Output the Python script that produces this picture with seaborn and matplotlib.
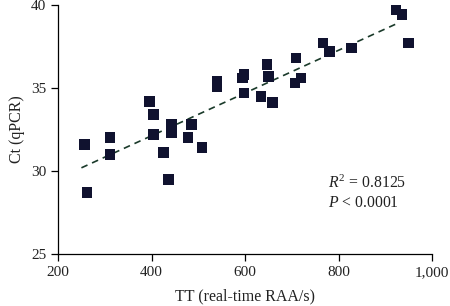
import numpy as np
import pandas as pd
import matplotlib
matplotlib.use("Agg")
import matplotlib.pyplot as plt
import seaborn as sns

tt = [256, 262, 311, 311, 395, 405, 405, 425, 437, 442, 442, 478, 485, 508,
      540, 540, 598, 594, 598, 634, 647, 651, 658, 709, 707, 720, 767, 780,
      827, 923, 936, 949]
ct = [31.6, 28.7, 32.0, 31.0, 34.2, 33.4, 32.2, 31.1, 29.5, 32.8, 32.3, 32.0,
      32.8, 31.4, 35.4, 35.1, 35.8, 35.6, 34.7, 34.5, 36.4, 35.7, 34.1, 36.8,
      35.3, 35.6, 37.7, 37.2, 37.4, 39.7, 39.4, 37.7]
x_ticks = [200, 400, 600, 800, 1000]
x_tick_labels = ["200", "400", "600", "800", "1,000"]
y_ticks = [25, 30, 35, 40]
r2_text = "0.8125"
p_text = "0.0001"

sns.set_style("ticks")
plt.rcParams["font.family"] = ["Liberation Serif", "DejaVu Serif"]
plt.rcParams["mathtext.fontset"] = "custom"
plt.rcParams["mathtext.rm"] = "Liberation Serif"
plt.rcParams["mathtext.it"] = "Liberation Serif:italic"

df = pd.DataFrame({"TT": tt, "Ct": ct})

fig = plt.figure(figsize=(4.5, 3.06), dpi=100)
ax = fig.add_axes([0.129, 0.170, 0.831, 0.814])

sns.scatterplot(data=df, x="TT", y="Ct", marker="s", s=60, color="#10122f",
                edgecolor="none", ax=ax, zorder=3)

slope, intercept = np.polyfit(df["TT"], df["Ct"], 1)
xl = np.array([250, 930])
sns.lineplot(x=xl, y=slope * xl + intercept, ax=ax, color="#1a3a2a",
             linestyle=(0, (4, 3)), linewidth=1.2, zorder=2)

ax.set_xlim(200, 1000)
ax.set_ylim(25, 40)
ax.set_xticks(x_ticks)
ax.set_xticklabels(x_tick_labels)
ax.set_yticks(y_ticks)
ax.tick_params(labelsize=11, length=5, width=0.9, color="black", labelcolor="#222222")
for s in ["left", "bottom"]:
    ax.spines[s].set_linewidth(0.9)
    ax.spines[s].set_color("black")
sns.despine(ax=ax)
ax.set_xlabel("TT (real-time RAA/s)", fontsize=11.5, color="#222222", labelpad=7)
ax.set_ylabel("Ct (qPCR)", fontsize=11.5, color="#222222")

ax.text(777, 29.0, r"$\it{R}^{2}$ = " + r2_text, fontsize=11.3, color="#222222")
ax.text(777, 27.8, r"$\it{P}$ < " + p_text, fontsize=11.3, color="#222222")

fig.savefig("out.png", dpi=100)
